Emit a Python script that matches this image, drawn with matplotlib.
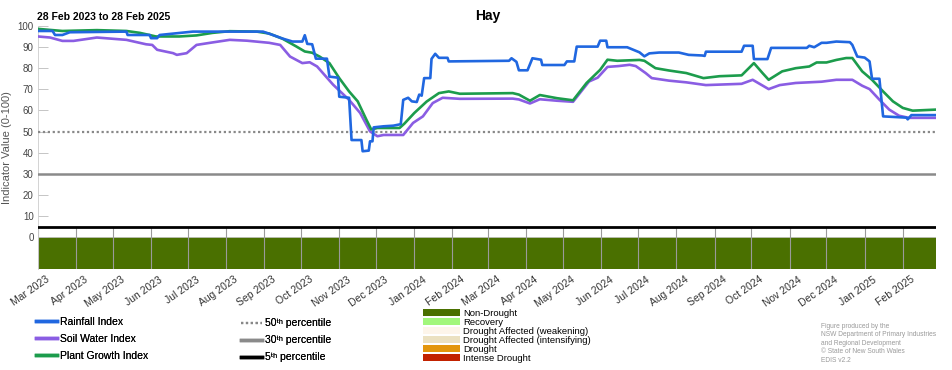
import matplotlib
matplotlib.use('Agg')
import matplotlib.pyplot as plt
import matplotlib.dates as mdates
import matplotlib.transforms as mtransforms
from matplotlib.lines import Line2D
from matplotlib.patches import Patch
import pandas as pd

plt.rcParams['font.family'] = ['Liberation Sans', 'DejaVu Sans']

# Rainfall Index (stepped)
rain_dates = ['2023-03-01', '2023-03-13', '2023-03-15', '2023-03-21', '2023-03-27', '2023-05-12',
              '2023-05-13', '2023-05-31', '2023-06-01', '2023-06-06', '2023-06-08', '2023-07-05',
              '2023-08-31', '2023-09-08', '2023-09-16', '2023-09-24', '2023-10-02', '2023-10-04',
              '2023-10-06', '2023-10-10', '2023-10-13', '2023-10-22', '2023-10-24', '2023-10-31',
              '2023-11-01', '2023-11-09', '2023-11-11', '2023-11-19', '2023-11-20', '2023-11-25',
              '2023-11-26', '2023-11-28', '2023-11-29', '2023-12-07', '2023-12-15', '2023-12-21',
              '2023-12-23', '2023-12-27', '2023-12-30', '2024-01-03', '2024-01-05', '2024-01-07',
              '2024-01-09', '2024-01-14', '2024-01-15', '2024-01-18', '2024-01-21', '2024-01-28',
              '2024-01-29', '2024-03-18', '2024-03-20', '2024-03-24', '2024-03-26', '2024-04-02',
              '2024-04-06', '2024-04-13', '2024-04-14', '2024-05-02', '2024-05-04', '2024-05-10',
              '2024-05-12', '2024-05-29', '2024-05-31', '2024-06-05', '2024-06-06', '2024-06-22',
              '2024-06-27', '2024-07-02', '2024-07-06', '2024-07-10', '2024-07-18', '2024-08-03',
              '2024-08-11', '2024-08-22', '2024-08-24', '2024-08-25', '2024-09-23', '2024-09-25',
              '2024-10-02', '2024-10-03', '2024-10-14', '2024-10-17', '2024-11-15', '2024-11-17',
              '2024-11-21', '2024-11-27', '2024-12-01', '2024-12-09', '2024-12-20', '2024-12-22',
              '2024-12-26', '2025-01-01', '2025-01-05', '2025-01-07', '2025-01-13', '2025-01-16',
              '2025-02-04', '2025-02-05', '2025-02-08', '2025-02-28']
rain_vals = [97.6, 97.6, 95.7, 95.7, 97.0, 97.3,
             95.7, 95.7, 94.2, 94.2, 95.7, 97.3,
             97.3, 95.7, 94.0, 92.6, 92.6, 95.6,
             91.5, 91.3, 84.5, 84.5, 76.0, 75.5,
             66.5, 66.0, 46.0, 46.0, 40.7, 41.0,
             45.4, 45.4, 52.0, 52.5, 52.8, 53.5,
             65.0, 66.0, 64.3, 64.0, 67.5, 67.0,
             75.3, 75.3, 84.4, 86.8, 84.9, 84.9,
             83.2, 83.5, 84.7, 83.0, 79.0, 79.0,
             84.7, 84.0, 81.5, 81.5, 83.2, 83.2,
             90.2, 90.2, 93.0, 93.0, 89.9, 89.9,
             88.7, 87.5, 85.6, 87.0, 87.4, 87.4,
             86.3, 86.0, 85.8, 87.8, 87.8, 90.6,
             90.6, 84.3, 84.3, 89.6, 89.6, 90.6,
             89.9, 92.0, 92.0, 92.6, 92.3, 91.0,
             85.5, 85.0, 83.2, 75.0, 75.0, 57.2,
             56.6, 55.8, 57.8, 57.8]

# Soil Water Index
soil_dates = ['2023-03-01', '2023-03-11', '2023-03-21', '2023-03-30', '2023-04-18', '2023-05-12',
              '2023-05-28', '2023-06-02', '2023-06-06', '2023-06-19', '2023-06-22', '2023-06-30',
              '2023-07-08', '2023-07-19', '2023-08-04', '2023-08-18', '2023-09-05', '2023-09-14',
              '2023-09-22', '2023-10-02', '2023-10-08', '2023-10-14', '2023-10-27', '2023-11-09',
              '2023-11-18', '2023-11-26', '2023-12-02', '2023-12-07', '2023-12-23', '2023-12-31',
              '2024-01-08', '2024-01-16', '2024-01-24', '2024-02-07', '2024-03-21', '2024-03-26',
              '2024-04-04', '2024-04-12', '2024-04-26', '2024-05-09', '2024-05-22', '2024-05-29',
              '2024-06-06', '2024-06-15', '2024-06-24', '2024-06-29', '2024-07-07', '2024-07-12',
              '2024-07-26', '2024-08-09', '2024-08-25', '2024-09-23', '2024-10-02', '2024-10-15',
              '2024-10-24', '2024-11-06', '2024-11-27', '2024-12-09', '2024-12-22', '2024-12-30',
              '2025-01-05', '2025-01-13', '2025-01-21', '2025-01-29', '2025-02-06', '2025-02-28']
soil_vals = [95.0, 94.5, 92.9, 92.9, 94.5, 93.4,
             91.3, 91.0, 88.7, 87.1, 86.3, 87.1,
             91.0, 92.0, 93.4, 93.0, 92.0, 91.0,
             85.5, 82.4, 82.8, 80.8, 72.2, 65.0,
             58.8, 50.1, 47.8, 48.4, 48.4, 54.1,
             57.2, 63.5, 66.0, 65.5, 65.6, 65.2,
             63.3, 65.3, 64.6, 64.1, 73.7, 75.5,
             80.6, 81.0, 81.6, 81.0, 77.7, 75.3,
             74.1, 73.3, 72.0, 72.6, 74.5, 70.1,
             72.0, 73.0, 73.6, 74.5, 74.5, 71.7,
             70.1, 65.1, 60.4, 57.5, 56.5, 56.5]

# Plant Growth Index
plant_dates = ['2023-03-01', '2023-03-21', '2023-04-18', '2023-05-12', '2023-05-23', '2023-06-05',
               '2023-06-24', '2023-07-08', '2023-07-21', '2023-08-04', '2023-08-26', '2023-09-05',
               '2023-09-16', '2023-09-27', '2023-10-04', '2023-10-10', '2023-10-16', '2023-10-24',
               '2023-11-01', '2023-11-09', '2023-11-16', '2023-11-23', '2023-11-27', '2023-12-02',
               '2023-12-20', '2023-12-24', '2024-01-01', '2024-01-11', '2024-01-21', '2024-01-29',
               '2024-02-07', '2024-03-21', '2024-03-26', '2024-04-04', '2024-04-12', '2024-04-26',
               '2024-05-09', '2024-05-20', '2024-05-31', '2024-06-06', '2024-06-14', '2024-07-02',
               '2024-07-06', '2024-07-15', '2024-07-26', '2024-08-09', '2024-08-23', '2024-09-05',
               '2024-09-23', '2024-10-03', '2024-10-10', '2024-10-15', '2024-10-26', '2024-11-06',
               '2024-11-17', '2024-11-23', '2024-12-01', '2024-12-09', '2024-12-17', '2024-12-22',
               '2024-12-30', '2025-01-07', '2025-01-16', '2025-01-24', '2025-02-01', '2025-02-09',
               '2025-02-28']
plant_vals = [98.6, 97.6, 98.0, 97.6, 96.7, 95.0,
              95.0, 95.5, 96.7, 97.5, 97.3, 96.4,
              93.9, 90.3, 87.9, 87.3, 85.5, 82.4,
              75.3, 69.0, 64.3, 55.7, 51.0, 51.7,
              51.7, 53.8, 58.8, 64.2, 68.2, 69.0,
              67.9, 68.2, 67.5, 64.6, 67.3, 65.8,
              64.8, 73.0, 79.2, 84.0, 83.5, 83.9,
              83.5, 80.0, 78.9, 77.7, 75.3, 76.2,
              76.6, 82.4, 77.7, 74.5, 78.5, 80.0,
              80.8, 82.7, 82.7, 83.9, 84.8, 84.8,
              78.5, 74.5, 69.0, 64.3, 61.2, 59.9,
              60.4]

# drought category strip, one entry per month
band_months = pd.date_range('2023-03-01', '2025-02-01', freq='MS')
band_category = ['Non-Drought'] * len(band_months)

categories = ['Non-Drought', 'Recovery', 'Drought Affected (weakening)',
              'Drought Affected (intensifying)', 'Drought', 'Intense Drought']
cat_colors = ['#4a7000', '#a2f77c', '#fdf5ea', '#ebe1c1', '#e3960c', '#c22200']
cat_color = dict(zip(categories, cat_colors))

percentiles = [50, 30, 5]

fig = plt.figure(figsize=(9.52, 3.70), dpi=100)
ax = fig.add_axes([0.0397, 0.273, 0.9435, 0.657])

start = pd.Timestamp('2023-03-01')
end = pd.Timestamp('2025-02-28')

# category strip
widths = [(b - a).days for a, b in zip(band_months, list(band_months[1:]) + [end])]
ax.bar(band_months, [15] * len(band_months), width=widths, bottom=-15, align='edge',
       color=[cat_color[c] for c in band_category], linewidth=0, zorder=1)
ax.vlines(band_months, -15, 5, color='#9a9a9a', lw=0.8, zorder=2)
ax.axhline(0, color='#cccccc', lw=0.6, zorder=1)

# percentile lines
ax.axhline(percentiles[0], color='#888888', lw=1.6, ls=(0, (1, 1.2)), zorder=3)
ax.axhline(percentiles[1], color='#8a8a8a', lw=1.8, zorder=3)
ax.axhline(percentiles[2], color='#000000', lw=2.0, zorder=3)

c_rain, c_soil, c_plant = '#2067e0', '#8a5de3', '#1c9c4c'
ax.plot(pd.to_datetime(soil_dates), soil_vals, color=c_soil, lw=1.9, zorder=4)
ax.plot(pd.to_datetime(plant_dates), plant_vals, color=c_plant, lw=1.9, zorder=5)
ax.plot(pd.to_datetime(rain_dates), rain_vals, color=c_rain, lw=1.9, zorder=6)

ax.set_xlim(start, end)
ax.set_ylim(-15, 100)
ax.set_yticks(range(0, 101, 10))
ax.tick_params(axis='y', direction='in', length=7, width=0.6, color='#bbbbbb',
               labelsize=7, labelcolor='#444444', pad=3)
ax.set_ylabel('Indicator Value (0-100)', fontsize=8, color='#555555', labelpad=4)

ax.set_xticks(band_months)
ax.set_xticklabels([d.strftime('%b %Y') for d in band_months])
ax.tick_params(axis='x', length=0, labelsize=7.5, labelcolor='#333333', pad=4)
shift = mtransforms.ScaledTranslation(8 / 100, 0, fig.dpi_scale_trans)
for lab in ax.get_xticklabels():
    lab.set_rotation(35)
    lab.set_ha('right')
    lab.set_va('top')
    lab.set_rotation_mode('anchor')
    lab.set_transform(lab.get_transform() + shift)

for s in ['top', 'right', 'bottom']:
    ax.spines[s].set_visible(False)
ax.spines['left'].set_color('#cccccc')
ax.spines['left'].set_linewidth(0.6)

fig.text(0.512, 0.958, 'Hay', ha='center', va='center', fontsize=10, fontweight='bold')
fig.text(0.039, 0.94, '28 Feb 2023 to 28 Feb 2025', ha='left', va='bottom',
         fontsize=7.5, fontweight='bold')

# legends
idx_handles = [Line2D([], [], color=c_rain, lw=2.5),
               Line2D([], [], color=c_soil, lw=2.5),
               Line2D([], [], color=c_plant, lw=2.5)]
leg1 = fig.legend(idx_handles, ['Rainfall Index', 'Soil Water Index', 'Plant Growth Index'],
                  loc='upper left', bbox_to_anchor=(0.038, 0.144), frameon=False,
                  fontsize=7.5, handlelength=2.0, handletextpad=0.3, labelspacing=0.68,
                  borderpad=0, borderaxespad=0)
fig.add_artist(leg1)

pct_handles = [Line2D([], [], color='#888888', lw=1.6, ls=(0, (1, 1.2))),
               Line2D([], [], color='#8a8a8a', lw=2.5),
               Line2D([], [], color='#000000', lw=2.5)]
pct_labels = [f'{p}\u1d57\u02b0 percentile' for p in percentiles]
leg2 = fig.legend(pct_handles, pct_labels, loc='upper left', bbox_to_anchor=(0.253, 0.14),
                  frameon=False, fontsize=7.5, handlelength=2.0, handletextpad=0.3,
                  labelspacing=0.68, borderpad=0, borderaxespad=0)
fig.add_artist(leg2)

cat_handles = [Patch(facecolor=c, edgecolor='none') for c in cat_colors]
fig.legend(cat_handles, categories, loc='upper left', bbox_to_anchor=(0.444, 0.166),
           frameon=False, fontsize=6.8, handlelength=4.0, handleheight=0.8, handletextpad=0.3,
           labelspacing=0.0, borderpad=0, borderaxespad=0)

fig.text(0.862, 0.128, 'Figure produced by the\nNSW Department of Primary Industries\n'
         'and Regional Development\n\u00a9 State of New South Wales\nEDIS v2.2',
         ha='left', va='top', fontsize=4.8, color='#9a9a9a', linespacing=1.3)

fig.savefig('out.png', dpi=100)
